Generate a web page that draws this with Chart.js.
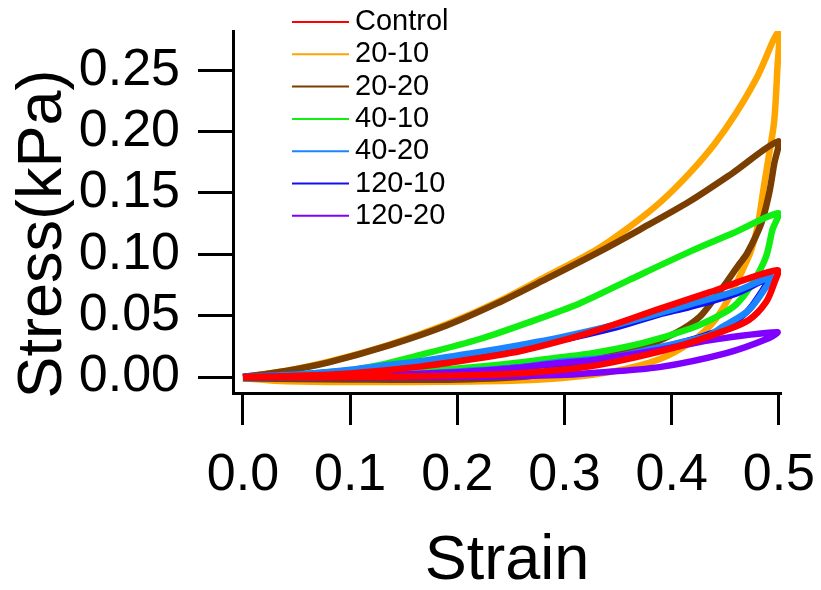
<!DOCTYPE html>
<html>
<head>
<meta charset="utf-8">
<title>Stress-strain hysteresis</title>
<script src="https://cdn.jsdelivr.net/npm/chart.js@4.4.1/dist/chart.umd.min.js"></script>
<style>
  html, body { margin: 0; padding: 0; background: #fff; }
  #wrap { width: 821px; height: 590px; position: relative; }
</style>
</head>
<body>
<div id="wrap"><canvas id="loops"></canvas></div>
<script>
// ===== Data: [strain, stress(kPa)] along each loading/unloading loop =====
const control = [
  [0, 0], [0.05, 0.001], [0.1, 0.003], [0.165, 0.0085], [0.221, 0.0155], [0.258, 0.021],
  [0.295, 0.029], [0.33, 0.038], [0.39, 0.056], [0.435, 0.069], [0.4985, 0.087],
  [0.4957, 0.0765], [0.488, 0.061], [0.472, 0.0465], [0.447, 0.037], [0.404, 0.0244],
  [0.35, 0.013], [0.314, 0.0075], [0.258, 0.003], [0.221, 0.0016], [0.15, 0.0005],
  [0.08, 0], [0, 0]
];
const s20_10 = [
  [0, 0], [0.04, 0.005], [0.08, 0.0125], [0.137, 0.0265], [0.19, 0.043], [0.237, 0.061],
  [0.283, 0.082], [0.33, 0.104], [0.36, 0.122], [0.39, 0.143], [0.4165, 0.166],
  [0.44, 0.19], [0.46, 0.215], [0.48, 0.245], [0.4995, 0.281],
  [0.4985, 0.25], [0.4957, 0.209], [0.491, 0.182], [0.486, 0.155], [0.48, 0.122],
  [0.474, 0.103], [0.466, 0.087], [0.455, 0.067], [0.44, 0.046], [0.419, 0.029],
  [0.3885, 0.0145], [0.342, 0.004], [0.295, -0.001], [0.25, -0.003], [0.15, -0.004],
  [0.08, -0.004], [0.03, -0.003], [0, -0.001]
];
const s20_20 = [
  [0, 0], [0.04, 0.005], [0.08, 0.012], [0.137, 0.026], [0.19, 0.042], [0.237, 0.06],
  [0.283, 0.08], [0.33, 0.101], [0.37, 0.12], [0.4165, 0.143], [0.4565, 0.166],
  [0.4995, 0.192],
  [0.4957, 0.174], [0.491, 0.15], [0.4835, 0.125], [0.4705, 0.101], [0.463, 0.092],
  [0.451, 0.077], [0.444, 0.069], [0.426, 0.049], [0.404, 0.036], [0.3725, 0.0244],
  [0.326, 0.0138], [0.295, 0.0073], [0.27, 0.001], [0.2, -0.002], [0.1, -0.002], [0, -0.001]
];
const s40_10 = [
  [0, 0], [0.05, 0.002], [0.1, 0.0055], [0.128, 0.0098], [0.158, 0.0163], [0.221, 0.031],
  [0.268, 0.045], [0.314, 0.06], [0.36, 0.079], [0.4165, 0.102], [0.4565, 0.117],
  [0.4995, 0.1335],
  [0.494, 0.12], [0.488, 0.098], [0.475, 0.076], [0.46, 0.059], [0.444, 0.05],
  [0.419, 0.04], [0.3725, 0.0277], [0.326, 0.0195], [0.295, 0.016], [0.25, 0.011],
  [0.2, 0.007], [0.15, 0.004], [0.1, 0.002], [0.05, 0.001], [0, 0]
];
const s40_20 = [
  [0, 0], [0.05, 0.002], [0.1, 0.006], [0.128, 0.009], [0.165, 0.013], [0.221, 0.0205],
  [0.258, 0.026], [0.295, 0.032], [0.35, 0.043], [0.3885, 0.052], [0.4165, 0.059],
  [0.46, 0.07], [0.493, 0.0815],
  [0.488, 0.0733], [0.472, 0.0546], [0.447, 0.0407], [0.435, 0.034], [0.3885, 0.0244],
  [0.35, 0.017], [0.314, 0.0138], [0.295, 0.0125], [0.258, 0.008], [0.221, 0.0057],
  [0.128, 0.001], [0.05, 0], [0, 0]
];
const s120_10 = [
  [0, 0], [0.05, 0.002], [0.1, 0.005], [0.165, 0.012], [0.221, 0.019], [0.295, 0.03],
  [0.35, 0.041], [0.3885, 0.051], [0.4165, 0.057], [0.46, 0.068], [0.49, 0.08],
  [0.485, 0.071], [0.47, 0.053], [0.447, 0.039], [0.4, 0.026], [0.35, 0.016],
  [0.295, 0.011], [0.221, 0.005], [0.128, 0.001], [0, 0]
];
const s120_20 = [
  [0, 0], [0.1, 0.001], [0.2, 0.004], [0.25, 0.007], [0.295, 0.0114], [0.326, 0.0138],
  [0.3885, 0.022], [0.435, 0.03], [0.4985, 0.0366],
  [0.491, 0.0318], [0.451, 0.0195], [0.3885, 0.0081], [0.326, 0.0033], [0.295, 0.0016],
  [0.2, 0], [0, 0]
];

const seriesNames  = ["Control", "20-10", "20-20", "40-10", "40-20", "120-10", "120-20"];
const seriesData   = [control, s20_10, s20_20, s40_10, s40_20, s120_10, s120_20];
const seriesColors = ["#ff0000", "#ffa500", "#7a3e00", "#11ee11", "#1a85ff", "#1010f0", "#8000ff"];
// stacking: lower number sits on top
const seriesOrder  = [1, 7, 6, 5, 3, 4, 2];

const strainTicks = [0, 0.1, 0.2, 0.3, 0.4, 0.5];
const stressTicks = [0, 0.05, 0.1, 0.15, 0.2, 0.25];

const FONT = '"Liberation Sans", Arial, Helvetica, sans-serif';

// keep the plot box where layout.padding puts it (no room reserved for label overhang)
function noOverhang(s) {
  s.paddingLeft = 0;
  s.paddingRight = 0;
  s.paddingTop = 0;
  s.paddingBottom = 0;
}

// ===== Legend + rotated y title =====
const sideText = {
  id: "sideText",
  afterDraw(chart) {
    const ctx = chart.ctx;
    ctx.save();
    ctx.fillStyle = "#000";
    ctx.font = "63px " + FONT;
    ctx.textAlign = "center";
    ctx.textBaseline = "alphabetic";
    ctx.translate(61, 234);
    ctx.rotate(-Math.PI / 2);
    ctx.fillText("Stress(kPa)", 0, 0);
    ctx.restore();

    ctx.save();
    ctx.font = "29px " + FONT;
    ctx.textAlign = "left";
    ctx.textBaseline = "middle";
    chart.data.datasets.forEach((ds, i) => {
      const y = 22 + i * 32.3;
      ctx.strokeStyle = ds.borderColor;
      ctx.lineWidth = 2;
      ctx.beginPath();
      ctx.moveTo(292, y);
      ctx.lineTo(349, y);
      ctx.stroke();
      ctx.fillStyle = "#000";
      ctx.fillText(ds.label, 355, y);
    });
    ctx.restore();
  }
};

const datasets = seriesNames.map((name, i) => ({
  label: name,
  data: seriesData[i].map(p => ({ x: p[0], y: p[1] })),
  borderColor: seriesColors[i],
  backgroundColor: seriesColors[i],
  borderWidth: 6.5,
  pointRadius: 0,
  showLine: true,
  fill: false,
  tension: 0.3,
  order: seriesOrder[i]
}));

new Chart(document.getElementById("loops").getContext("2d"), {
  type: "scatter",
  data: { datasets },
  options: {
    responsive: true,
    maintainAspectRatio: false,
    animation: false,
    layout: { padding: { top: 31, right: 40, bottom: 0, left: 0 } },
    plugins: { legend: { display: false }, tooltip: { enabled: false } },
    scales: {
      x: {
        type: "linear",
        min: -0.0093,
        max: 0.502,
        afterBuildTicks: (s) => { s.ticks = strainTicks.map(v => ({ value: v })); },
        afterFit: (s) => { s.height = 197; noOverhang(s); },
        grid: { drawOnChartArea: false, drawTicks: true, tickLength: 32, tickWidth: 3, tickColor: "#000" },
        border: { display: true, color: "#000", width: 3 },
        ticks: {
          color: "#000",
          font: { family: FONT, size: 52 },
          padding: 19,
          maxRotation: 0,
          callback: (v) => v.toFixed(1)
        },
        title: {
          display: true,
          text: "Strain",
          color: "#000",
          font: { family: FONT, size: 63, lineHeight: 1 },
          padding: { top: 0, bottom: -3 }
        }
      },
      y: {
        type: "linear",
        min: -0.013,
        max: 0.282,
        afterBuildTicks: (s) => { s.ticks = stressTicks.map(v => ({ value: v })); },
        afterFit: (s) => { s.width = 233; noOverhang(s); },
        grid: { drawOnChartArea: false, drawTicks: true, tickLength: 35, tickWidth: 3, tickColor: "#000" },
        border: { display: true, color: "#000", width: 3 },
        ticks: {
          color: "#000",
          font: { family: FONT, size: 52 },
          padding: 18,
          callback: (v) => v.toFixed(2)
        }
      }
    }
  },
  plugins: [sideText]
});
</script>
</body>
</html>
